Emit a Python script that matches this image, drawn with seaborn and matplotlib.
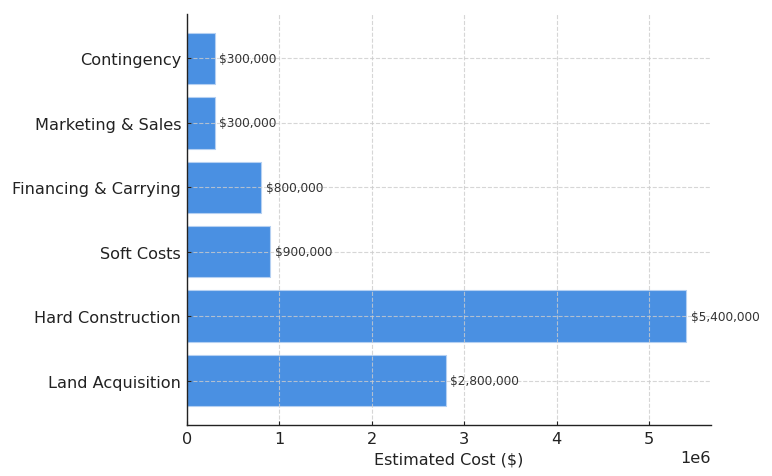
import matplotlib
matplotlib.use("Agg")
import matplotlib.pyplot as plt
import seaborn as sns
import pandas as pd

categories = ["Land Acquisition", "Hard Construction", "Soft Costs",
              "Financing & Carrying", "Marketing & Sales", "Contingency"]
costs = [2800000, 5400000, 900000, 800000, 300000, 300000]

plt.rcParams['font.family'] = ['DejaVu Sans']

df = pd.DataFrame({"Category": categories, "Cost": costs})
order = list(reversed(categories))

fig = plt.figure(figsize=(7.72, 4.77), dpi=100)
ax = fig.add_axes([0.2422, 0.107, 0.921 - 0.2422, 0.9685 - 0.107])

sns.barplot(data=df, y="Category", x="Cost", order=order, orient="h",
            color="#4a90e2", saturation=1, width=0.8, ax=ax,
            edgecolor="#b5d0f2", linewidth=0.8)

ax.set_ylim(5.69, -0.69)
ax.set_xlim(0, 5.67e6)
ax.grid(True, linestyle="--", color="#cccccc", linewidth=0.8, alpha=0.8)
ax.set_axisbelow(False)

for i, cat in enumerate(order):
    v = costs[categories.index(cat)]
    ax.text(v + 50000, i, f"${v:,.0f}", va="center", ha="left",
            fontsize=8.7, color="#333333")

ax.set_xlabel("Estimated Cost ($)", fontsize=11.5, color="#222222", labelpad=4)
ax.set_ylabel("")
ax.tick_params(axis="both", labelsize=11.6, colors="#222222", length=3,
               direction="in", pad=4.3)
ax.xaxis.get_offset_text().set_fontsize(11.6)
ax.xaxis.get_offset_text().set_color("#222222")
for s in ["top", "right"]:
    ax.spines[s].set_visible(False)
for s in ["left", "bottom"]:
    ax.spines[s].set_color("#222222")
    ax.spines[s].set_linewidth(1.0)
    ax.spines[s].set_zorder(5)

fig.savefig("out.png", dpi=100)
